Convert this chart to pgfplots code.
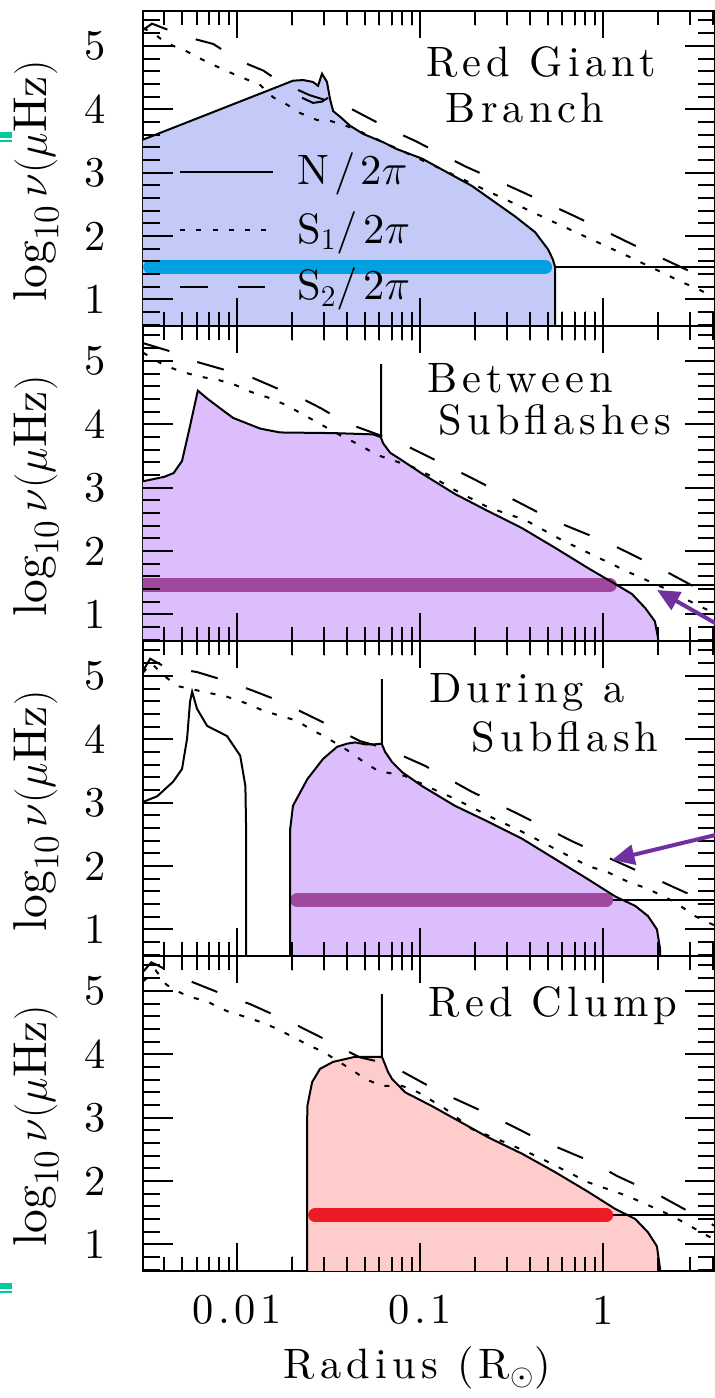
\documentclass[border=0pt]{standalone}
\usepackage{fontspec}
\setmainfont{lmroman10-regular.otf}[ItalicFont=lmroman10-italic.otf,BoldFont=lmroman10-bold.otf]
\usepackage{pgfplots}
\pgfplotsset{compat=1.18}
\usetikzlibrary{arrows.meta}

\definecolor{fillB}{RGB}{196,202,248}
\definecolor{fillP}{RGB}{221,190,252}
\definecolor{fillR}{RGB}{255,204,204}
\definecolor{lineB}{RGB}{0,160,226}
\definecolor{lineP}{RGB}{160,72,160}
\definecolor{lineR}{RGB}{237,28,36}
\definecolor{arrowP}{RGB}{112,48,160}
\definecolor{tealmark}{RGB}{0,204,153}

\newcommand\lbl{\fontsize{17pt}{20pt}\selectfont\addfontfeatures{LetterSpace=12}}
\newcommand\tck{\fontsize{17pt}{20pt}\selectfont\addfontfeatures{LetterSpace=10}}

\tikzset{
  Nline/.style={black, line width=0.8pt},
  S1line/.style={black, line width=0.8pt, dash pattern=on 2pt off 4.5pt},
  S2line/.style={black, line width=0.8pt, dash pattern=on 11pt off 12pt},
  numax/.style={line width=5.6pt, line cap=round},
  thinline/.style={black, line width=0.6pt},
  tk/.style={black, line width=0.8pt},
}

\pgfplotsset{
  base/.style={
    width=228.8pt, height=126pt, scale only axis, anchor=south west,
    xmin=0.00306, xmax=4.09, ymin=0.58, ymax=5.55,
    xtick={0.01,0.1,1}, xticklabels={},
    ytick={1,2,3,4,5}, yticklabels={1,2,3,4,5},
    minor ytick={0.6,0.8,1.2,1.4,1.6,1.8,2.2,2.4,2.6,2.8,3.2,3.4,3.6,3.8,4.2,4.4,4.6,4.8,5.2,5.4},
    tick align=inside, major tick length=11pt, minor tick length=6pt,
    axis line style={line width=1pt},
    clip mode=individual,
    yticklabel style={font=\tck, xshift=-11.5pt},
    ylabel={$\log_{10}\nu(\mu\mathrm{Hz})$},
    every axis y label/.style={at={(axis description cs:-0.187,0.46)}, rotate=90, anchor=center, font=\fontsize{19pt}{19pt}\selectfont},
  },
}

% inward tick marks on all four sides of a panel
\newcommand\drawticks{%
  \pgfplotsinvokeforeach{1,2,3,4,5}{%
    \draw[tk] (axis cs:0.00306,##1) -- ++(12pt,0pt);
    \draw[tk] (axis cs:4.09,##1) -- ++(-12pt,0pt);
  }%
  \pgfplotsinvokeforeach{0.6,0.8,1.2,1.4,1.6,1.8,2.2,2.4,2.6,2.8,3.2,3.4,3.6,3.8,4.2,4.4,4.6,4.8,5.2,5.4}{%
    \draw[tk] (axis cs:0.00306,##1) -- ++(7pt,0pt);
    \draw[tk] (axis cs:4.09,##1) -- ++(-7pt,0pt);
  }%
  \pgfplotsinvokeforeach{0.01,0.1,1}{%
    \draw[tk] (axis cs:##1,0.58) -- ++(0pt,11pt);
    \draw[tk] (axis cs:##1,5.55) -- ++(0pt,-11pt);
  }%
  \pgfplotsinvokeforeach{0.004,0.005,0.006,0.007,0.008,0.009,0.02,0.03,0.04,0.05,0.06,0.07,0.08,0.09,0.2,0.3,0.4,0.5,0.6,0.7,0.8,0.9,2,3,4}{%
    \draw[tk] (axis cs:##1,0.58) -- ++(0pt,5.5pt);
    \draw[tk] (axis cs:##1,5.55) -- ++(0pt,-5.5pt);
  }%
}

\begin{document}
\begin{tikzpicture}
\useasboundingbox (0pt,0pt) rectangle (286pt,559.2pt);

% ---------------- Red Giant Branch ----------------
\begin{axis}[xmode=log, base, at={(57.2pt,428.8pt)}]
\addplot[fill=fillB, draw=none] coordinates {
 (0.00306,3.52) (0.0172,4.37) (0.0202,4.45) (0.0230,4.46)
 (0.0260,4.43) (0.0277,4.37) (0.0291,4.56) (0.0310,4.43) (0.0322,4.16) (0.0335,3.97)
 (0.0366,3.88) (0.0414,3.74) (0.0489,3.61) (0.0628,3.48) (0.0748,3.37) (0.1026,3.22)
 (0.192,2.79) (0.330,2.31) (0.425,2.06) (0.500,1.79) (0.530,1.64) (0.547,1.51) (0.547,0.3)} \closedcycle;
\addplot[numax, lineB] coordinates {(0.00335,1.51) (0.482,1.51)};
\addplot[thinline] coordinates {(0.547,1.51) (5,1.51)};
\addplot[Nline] coordinates {
 (0.00306,3.52) (0.0172,4.37) (0.0202,4.45) (0.0230,4.46)
 (0.0260,4.43) (0.0277,4.37) (0.0291,4.56) (0.0310,4.43) (0.0322,4.16) (0.0335,3.97)
 (0.0366,3.88) (0.0414,3.74) (0.0489,3.61) (0.0628,3.48) (0.0748,3.37) (0.1026,3.22)
 (0.192,2.79) (0.330,2.31) (0.425,2.06) (0.500,1.79) (0.530,1.64) (0.547,1.51) (0.547,0.3)};
\addplot[Nline] coordinates {(0.02265,4.18) (0.026,4.10) (0.0291,4.12) (0.0314,4.18)};
\addplot[S1line] coordinates {
 (0.00306,5.28) (0.0035,5.20) (0.00394,5.08) (0.00447,5.00) (0.00533,4.91) (0.00628,4.80)
 (0.0074,4.70) (0.0095,4.56) (0.0134,4.38) (0.0157,4.19) (0.0188,4.07) (0.0221,3.94)
 (0.0273,3.83) (0.0320,3.82) (0.0431,3.70) (0.0520,3.59) (0.0628,3.48) (0.132,3.05)
 (0.218,2.75) (0.389,2.41) (0.547,2.21) (0.828,1.97) (1.37,1.68) (1.85,1.50) (2.71,1.27)
 (3.31,1.16) (4.09,1.03)};
\addplot[S2line] coordinates {
 (0.00306,5.25) (0.00343,5.35) (0.0043,5.24) (0.0050,5.16) (0.0074,5.03) (0.0104,4.76)
 (0.0139,4.61) (0.0172,4.43) (0.0250,4.22) (0.0399,4.04) (0.0711,3.66) (0.094,3.50) (0.176,3.10)
 (0.352,2.71) (0.703,2.31) (1.44,1.87) (2.80,1.48) (4.09,1.27)};
\drawticks
% key
\draw[Nline] (axis description cs:0.0647,0.489) -- (axis description cs:0.227,0.489);
\draw[S1line] (axis description cs:0.0647,0.305) -- (axis description cs:0.227,0.305);
\draw[S2line] (axis description cs:0.0647,0.124) -- (axis description cs:0.227,0.124);
\node[font=\lbl, anchor=base west, inner sep=0pt] at (axis description cs:0.269,0.448) {N/2$\pi$};
\node[font=\lbl, anchor=base west, inner sep=0pt] at (axis description cs:0.269,0.263) {S$_1$/2$\pi$};
\node[font=\lbl, anchor=base west, inner sep=0pt] at (axis description cs:0.269,0.083) {S$_2$/2$\pi$};
\node[font=\lbl] at (axis description cs:0.696,0.838) {Red Giant};
\node[font=\lbl] at (axis description cs:0.668,0.692) {Branch};
\end{axis}

% ---------------- Between Subflashes ----------------
\begin{axis}[xmode=log, base, at={(57.2pt,302.8pt)}]
\addplot[fill=fillP, draw=none] coordinates {
 (0.00306,3.10) (0.0040,3.17) (0.0045,3.23) (0.0050,3.42) (0.0055,3.94) (0.0061,4.53)
 (0.0069,4.40) (0.0095,4.10) (0.0134,3.93) (0.0172,3.87) (0.0335,3.86) (0.0553,3.84)
 (0.0605,3.80) (0.0612,3.79) (0.0628,3.70) (0.0686,3.55) (0.0778,3.45) (0.1026,3.22)
 (0.155,2.90) (0.235,2.63) (0.361,2.36) (0.547,2.05) (0.828,1.73) (1.164,1.48) (1.44,1.32)
 (1.70,1.10) (1.92,0.89) (2.0,0.62) (2.0,0.3)} \closedcycle;
\addplot[numax, lineP] coordinates {(0.0025,1.46) (1.09,1.46)};
\addplot[thinline] coordinates {(1.16,1.46) (5,1.46)};
\addplot[Nline] coordinates {
 (0.00306,3.10) (0.0040,3.17) (0.0045,3.23) (0.0050,3.42) (0.0055,3.94) (0.0061,4.53)
 (0.0069,4.40) (0.0095,4.10) (0.0134,3.93) (0.0172,3.87) (0.0335,3.86) (0.0553,3.84)
 (0.0605,3.80) (0.0612,3.79) (0.0612,4.95) (0.0613,3.78) (0.0628,3.70) (0.0686,3.55)
 (0.0778,3.45) (0.1026,3.22) (0.155,2.90) (0.235,2.63) (0.361,2.36) (0.547,2.05)
 (0.828,1.73) (1.164,1.48) (1.44,1.32) (1.70,1.10) (1.92,0.89) (2.0,0.62) (2.0,0.3)};
\addplot[S1line] coordinates {
 (0.00306,5.13) (0.00394,4.94) (0.00494,4.83) (0.00628,4.75) (0.00787,4.70) (0.00975,4.62)
 (0.0119,4.51) (0.0148,4.42) (0.0183,4.31) (0.0221,4.18) (0.0270,4.04) (0.0380,3.80)
 (0.0470,3.67) (0.0575,3.52) (0.0904,3.33) (0.1164,3.17) (0.155,2.96) (0.235,2.69)
 (0.375,2.49) (0.597,2.17) (0.904,1.92) (1.37,1.67) (2.10,1.43) (3.47,1.11) (4.09,1.02)};
\addplot[S2line] coordinates {
 (0.00306,5.28) (0.0042,5.16) (0.00575,5.00) (0.0122,4.73) (0.0161,4.58) (0.0221,4.42)
 (0.0288,4.25) (0.0394,4.02) (0.0778,3.71) (0.1038,3.53) (0.192,3.15) (0.547,2.47)
 (1.064,2.13) (2.10,1.71) (4.09,1.26)};
\drawticks
\node[font=\lbl] at (axis description cs:0.659,0.835) {Between};
\node[font=\lbl] at (axis description cs:0.720,0.702) {Subflashes};
\end{axis}

% ---------------- During a Subflash ----------------
\begin{axis}[xmode=log, base, at={(57.2pt,176.8pt)}]
\addplot[fill=fillP, draw=none] coordinates {
 (0.0195,0.3) (0.0195,2.58) (0.0202,2.95) (0.0242,3.37) (0.0295,3.69) (0.0352,3.88)
 (0.0399,3.93) (0.0442,3.95) (0.050,3.92) (0.0567,3.92) (0.0618,3.93) (0.0644,3.80)
 (0.0703,3.64) (0.0798,3.48) (0.1026,3.26) (0.155,2.95) (0.235,2.70) (0.361,2.43)
 (0.547,2.11) (0.828,1.79) (1.164,1.52) (1.50,1.37) (1.76,1.21) (1.97,1.00) (2.05,0.69)
 (2.06,0.3)} \closedcycle;
\addplot[numax, lineP] coordinates {(0.0213,1.46) (1.04,1.46)};
\addplot[thinline] coordinates {(1.14,1.46) (5,1.46)};
\addplot[Nline] coordinates {
 (0.00306,3.01) (0.00366,3.10) (0.00447,3.33) (0.0050,3.53) (0.00533,4.01) (0.00553,4.59)
 (0.00568,4.75) (0.00604,4.48) (0.00686,4.21) (0.00881,4.05) (0.0104,3.74) (0.0111,3.26)
 (0.0112,2.58) (0.0112,0.3)};
\addplot[Nline] coordinates {
 (0.0195,0.3) (0.0195,2.58) (0.0202,2.95) (0.0242,3.37) (0.0295,3.69) (0.0352,3.88)
 (0.0399,3.93) (0.0442,3.95) (0.050,3.92) (0.0567,3.92) (0.0618,3.93) (0.0618,4.95)
 (0.0619,3.92) (0.0644,3.80) (0.0703,3.64) (0.0798,3.48) (0.1026,3.26) (0.155,2.95)
 (0.235,2.70) (0.361,2.43) (0.547,2.11) (0.828,1.79) (1.164,1.52) (1.50,1.37) (1.76,1.21)
 (1.97,1.00) (2.05,0.69) (2.06,0.3)};
\addplot[S1line] coordinates {
 (0.00306,5.05) (0.0034,5.20) (0.0040,5.00) (0.0047,4.84) (0.00652,4.75) (0.00881,4.67)
 (0.0114,4.56) (0.0139,4.45) (0.0172,4.37) (0.0213,4.29) (0.0251,4.16) (0.0303,4.04)
 (0.0414,3.80) (0.0482,3.66) (0.0589,3.50) (0.0828,3.42) (0.1164,3.22) (0.155,3.06)
 (0.257,2.74) (0.361,2.54) (0.547,2.27) (0.828,2.00) (1.064,1.90) (1.37,1.75) (1.76,1.64)
 (2.47,1.43) (3.18,1.21) (3.75,1.11) (4.09,1.06)};
\addplot[S2line] coordinates {
 (0.00306,5.08) (0.00335,5.27) (0.00404,5.14) (0.00604,5.06) (0.00893,4.91) (0.0121,4.77)
 (0.0168,4.61) (0.0195,4.52) (0.0284,4.29) (0.0470,3.97) (0.0644,3.86) (0.1065,3.58)
 (0.192,3.17) (0.344,2.82) (0.678,2.39) (1.05,2.14) (2.10,1.75) (4.09,1.37)};
\drawticks
\node[font=\lbl] at (axis description cs:0.671,0.838) {During a};
\node[font=\lbl] at (axis description cs:0.738,0.695) {Subflash};
\end{axis}

% ---------------- Red Clump ----------------
\begin{axis}[xmode=log, base, at={(57.2pt,50.8pt)}]
\addplot[fill=fillR, draw=none] coordinates {
 (0.0241,0.3) (0.0241,2.60) (0.0242,3.18) (0.0257,3.56) (0.0284,3.77) (0.0335,3.88)
 (0.0399,3.93) (0.0442,3.96) (0.0589,3.96) (0.0618,3.96) (0.0668,3.72) (0.0703,3.61)
 (0.0828,3.40) (0.1164,3.18) (0.155,2.98) (0.235,2.69) (0.361,2.43) (0.547,2.14)
 (0.828,1.83) (1.164,1.56) (1.50,1.40) (1.76,1.19) (1.97,0.97) (2.05,0.61) (2.06,0.3)} \closedcycle;
\addplot[numax, lineR] coordinates {(0.0267,1.46) (1.04,1.46)};
\addplot[thinline] coordinates {(1.14,1.46) (5,1.46)};
\addplot[Nline] coordinates {
 (0.0241,0.3) (0.0241,2.60) (0.0242,3.18) (0.0257,3.56) (0.0284,3.77) (0.0335,3.88)
 (0.0399,3.93) (0.0442,3.96) (0.0589,3.96) (0.0618,3.96) (0.0618,4.95) (0.0619,3.96)
 (0.0668,3.72) (0.0703,3.61) (0.0828,3.40) (0.1164,3.18) (0.155,2.98) (0.235,2.69)
 (0.361,2.43) (0.547,2.14) (0.828,1.83) (1.164,1.56) (1.50,1.40) (1.76,1.19) (1.97,0.97)
 (2.05,0.61) (2.06,0.3)};
\addplot[S1line] coordinates {
 (0.00306,5.15) (0.0036,5.32) (0.0041,5.10) (0.00447,5.03) (0.00533,4.92) (0.00686,4.83)
 (0.00881,4.68) (0.0108,4.60) (0.0134,4.51) (0.0166,4.40) (0.0202,4.27) (0.0251,4.13)
 (0.0295,4.04) (0.0431,3.74) (0.050,3.61) (0.0620,3.50) (0.0798,3.50) (0.0975,3.40)
 (0.137,3.14) (0.192,2.82) (0.291,2.61) (0.442,2.38) (0.828,1.98) (1.37,1.76) (2.38,1.45)
 (3.75,1.13) (4.09,1.08)};
\addplot[S2line] coordinates {
 (0.00306,5.30) (0.0034,5.45) (0.0040,5.35) (0.00568,5.14) (0.00881,4.92) (0.0118,4.79)
 (0.0168,4.59) (0.0215,4.45) (0.0314,4.21) (0.0380,4.08) (0.0470,3.95) (0.0668,3.85)
 (0.125,3.42) (0.235,3.06) (0.442,2.66) (0.597,2.50) (0.871,2.30) (1.19,2.08) (2.10,1.75)
 (4.09,1.29)};
\drawticks
\node[font=\lbl] at (axis description cs:0.717,0.841) {Red Clump};
% radius tick labels and axis title
\node[font=\tck, yshift=-15.6pt] at (axis cs:0.01,0.58) {0.01};
\node[font=\tck, yshift=-15.6pt] at (axis cs:0.1,0.58) {0.1};
\node[font=\tck, yshift=-15.6pt] at (axis cs:1,0.58) {1};
\node[font=\lbl, yshift=-38.8pt] at (axis description cs:0.48,0) {Radius (R$_\odot$)};
\end{axis}

% arrows pointing at the S2 curves
\draw[arrowP, line width=1.6pt, -{Triangle[length=9pt,width=8pt]}] (292pt,306.6pt) -- (262.8pt,323.2pt);
\draw[arrowP, line width=1.6pt, -{Triangle[length=9pt,width=8pt]}] (292pt,226.6pt) -- (244.8pt,215.2pt);

% small marks on the left margin
\fill[tealmark] (0pt,504pt) rectangle (4.8pt,506.4pt);
\fill[tealmark] (0pt,502.4pt) rectangle (4.8pt,503.2pt);
\fill[tealmark] (0pt,43.6pt) rectangle (4.8pt,46pt);
\fill[tealmark] (0pt,42pt) rectangle (4.8pt,42.8pt);
\end{tikzpicture}
\end{document}
